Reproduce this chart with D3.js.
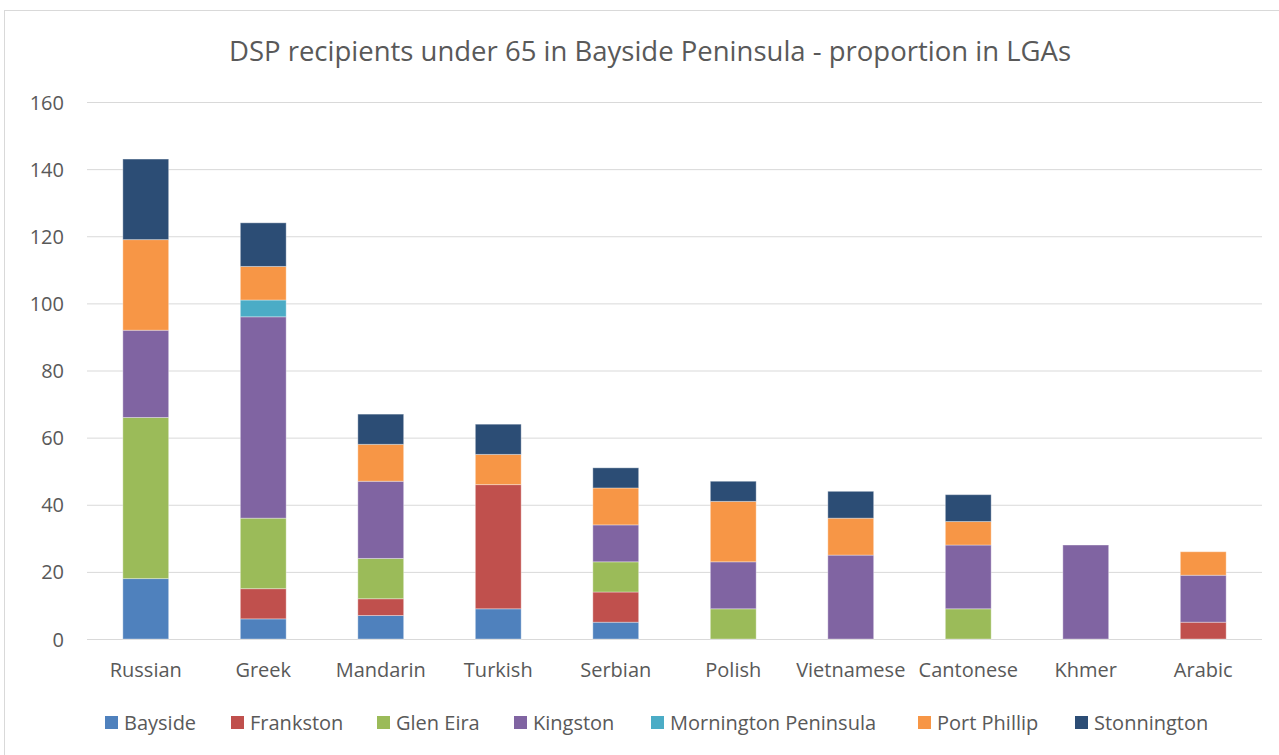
<!DOCTYPE html>
<html><head><meta charset="utf-8">
<script src="https://cdn.jsdelivr.net/npm/d3@7"></script>
<style>body{margin:0;background:#fff}svg{display:block}text{font-family:"Open Sans",sans-serif;fill:#595959}</style>
</head><body><svg id="c" width="1279" height="755"></svg>
<script>
const categories = ["Russian","Greek","Mandarin","Turkish","Serbian","Polish","Vietnamese","Cantonese","Khmer","Arabic"];
const seriesNames = ["Bayside","Frankston","Glen Eira","Kingston","Mornington Peninsula","Port Phillip","Stonnington"];
const bayside     = [18, 6, 7, 9, 5, 0, 0, 0, 0, 0];
const frankston   = [0, 9, 5, 37, 9, 0, 0, 0, 0, 5];
const glenEira    = [48, 21, 12, 0, 9, 9, 0, 9, 0, 0];
const kingston    = [26, 60, 23, 0, 11, 14, 25, 19, 28, 14];
const mornington  = [0, 5, 0, 0, 0, 0, 0, 0, 0, 0];
const portPhillip = [27, 10, 11, 9, 11, 18, 11, 7, 0, 7];
const stonnington = [24, 13, 9, 9, 6, 6, 8, 8, 0, 0];
const yTicks = [0,20,40,60,80,100,120,140,160];
const colors = ["#4f81bd","#c0504d","#9bbb59","#8064a2","#4bacc6","#f79646","#2c4d75"];
const title = "DSP recipients under 65 in Bayside Peninsula - proportion in LGAs";

const seriesVals = [bayside, frankston, glenEira, kingston, mornington, portPhillip, stonnington];
const rows = categories.map((c,i)=>{const r={cat:c}; seriesNames.forEach((s,j)=>r[s]=seriesVals[j][i]); return r;});
const stack = d3.stack().keys(seriesNames)(rows);

const svg = d3.select("#c");
const m={left:87,right:1262,top:102,bottom:639};
svg.append("rect").attr("x",4.5).attr("y",10.5).attr("width",1300).attr("height",800).attr("fill","#fff").attr("stroke","#d9d9d9");

const x = d3.scaleBand().domain(categories).range([m.left,m.right]).paddingInner(0.61).paddingOuter(0.305);
const y = d3.scaleLinear().domain([0,160]).range([m.bottom,m.top]);

// grid
svg.append("g").selectAll("line").data(yTicks).join("line")
  .attr("x1",m.left).attr("x2",m.right).attr("y1",d=>y(d)+0.5).attr("y2",d=>y(d)+0.5)
  .attr("stroke","#d9d9d9").attr("stroke-width",1);

// y axis labels
const yAxis = d3.axisLeft(y).tickValues(yTicks).tickSize(0).tickPadding(0);
const ya = svg.append("g").attr("transform","translate(64,0)").call(yAxis);
ya.select(".domain").remove();
ya.selectAll("text").attr("font-size","20px").style("font-family","'Open Sans',sans-serif").attr("fill","#595959").attr("dy","0.35em");

// bars
svg.append("g").selectAll("g").data(stack).join("g").attr("fill",(d,i)=>colors[i])
  .selectAll("rect").data(d=>d.filter(p=>p[1]-p[0]>0)).join("rect")
  .attr("x",d=>x(d.data.cat)).attr("width",x.bandwidth())
  .attr("y",d=>y(d[1])).attr("height",d=>y(d[0])-y(d[1]))
  .attr("stroke","#ffffff").attr("stroke-opacity",0.35).attr("stroke-width",1);

// x axis labels
const xAxis = d3.axisBottom(x).tickSize(0).tickPadding(0);
const xa = svg.append("g").attr("transform","translate(0,677)").call(xAxis);
xa.select(".domain").remove();
xa.selectAll("text").attr("font-size","20px").style("font-family","'Open Sans',sans-serif").attr("fill","#595959").attr("dy","0");

// title
svg.append("text").attr("x",650).attr("y",61).attr("text-anchor","middle").attr("font-size","27.5px").text(title);

// legend
const legX = [105,231,377,514,651,918,1075];
const lg = svg.append("g").selectAll("g").data(seriesNames).join("g")
  .attr("transform",(d,i)=>`translate(${legX[i]},716)`);
lg.append("rect").attr("width",13).attr("height",13).attr("fill",(d,i)=>colors[i]);
lg.append("text").attr("x",19).attr("y",14).attr("font-size","20px").text(d=>d);
</script></body></html>
